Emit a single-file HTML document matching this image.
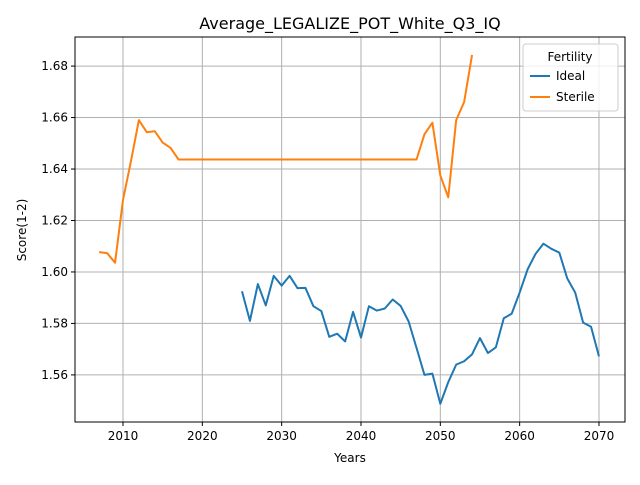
<!DOCTYPE html>
<html><head><meta charset="utf-8"><style>
body{margin:0;background:#fff;}
svg text{font-family:"DejaVu Sans","Liberation Sans",sans-serif;}
</style></head><body>
<svg id="chart" width="640" height="480">
<text x="350" y="29" font-size="16" text-anchor="middle">Average_LEGALIZE_POT_White_Q3_IQ</text>
<g id="grid"></g><g id="series"></g><g id="axes"></g>
<text x="350" y="462" font-size="12" text-anchor="middle">Years</text>
<text x="26" y="230" font-size="12" text-anchor="middle" transform="rotate(-90 26 230)">Score(1-2)</text>
<g>
<rect x="523" y="44" width="95" height="67" fill="#fff" fill-opacity="0.8" stroke="#ccc" rx="3"/>
<text x="570" y="61" font-size="12" text-anchor="middle">Fertility</text>
<line x1="530" y1="76" x2="550" y2="76" stroke="#1f77b4" stroke-width="2"/>
<text x="556" y="80" font-size="12">Ideal</text>
<line x1="530" y1="97" x2="550" y2="97" stroke="#ff7f0e" stroke-width="2"/>
<text x="556" y="101" font-size="12">Sterile</text>
</g>
</svg>
<script>
const sterileYears=[2007,2008,2009,2010,2011,2012,2013,2014,2015,2016,2017,2018,2019,2020,2021,2022,2023,2024,2025,2026,2027,2028,2029,2030,2031,2032,2033,2034,2035,2036,2037,2038,2039,2040,2041,2042,2043,2044,2045,2046,2047,2048,2049,2050,2051,2052,2053,2054];
const sterileValues=[1.6077,1.6073,1.6036,1.628,1.643,1.659,1.6543,1.6547,1.6503,1.6482,1.6437,1.6437,1.6437,1.6437,1.6437,1.6437,1.6437,1.6437,1.6437,1.6437,1.6437,1.6437,1.6437,1.6437,1.6437,1.6437,1.6437,1.6437,1.6437,1.6437,1.6437,1.6437,1.6437,1.6437,1.6437,1.6437,1.6437,1.6437,1.6437,1.6437,1.6437,1.6535,1.658,1.6375,1.629,1.659,1.666,1.6843];
const idealYears=[];for(let y=2025;y<=2070;y++)idealYears.push(y);
const idealValues=[1.5925,1.581,1.5953,1.587,1.5985,1.5947,1.5985,1.5937,1.5938,1.5867,1.5848,1.5748,1.576,1.573,1.5845,1.5745,1.5867,1.585,1.5858,1.5893,1.5868,1.5808,1.5705,1.56,1.5605,1.5488,1.5572,1.564,1.5653,1.568,1.5743,1.5685,1.5707,1.582,1.5838,1.592,1.601,1.607,1.611,1.609,1.6075,1.5975,1.592,1.5803,1.5787,1.5672];
const xTicks=[2010,2020,2030,2040,2050,2060,2070];
const yTicks=[1.56,1.58,1.60,1.62,1.64,1.66,1.68];
const L=75,R=625,T=37,B=422,x0=2003.95,x1=2073.28,y0=1.5417,y1=1.6913;
const X=v=>L+(v-x0)/(x1-x0)*(R-L);
const Y=v=>B-(v-y0)/(y1-y0)*(B-T);
const NS="http://www.w3.org/2000/svg";
function mk(tag,attrs,parent){const e=document.createElementNS(NS,tag);for(const k in attrs)e.setAttribute(k,attrs[k]);document.getElementById(parent).appendChild(e);return e;}
xTicks.forEach(t=>{
 const g=mk('line',{x1:X(t),x2:X(t),y1:T,y2:B,stroke:'#b0b0b0','stroke-width':1},'grid');
 
 
 mk('line',{x1:X(t),x2:X(t),y1:B,y2:B+4,stroke:'#000'},'axes');
 const tx=mk('text',{x:X(t),y:B+18,'font-size':12,'text-anchor':'middle'},'axes');tx.textContent=t;
 
 
});
yTicks.forEach(t=>{
 const g=mk('line',{x1:L,x2:R,y1:Y(t),y2:Y(t),stroke:'#b0b0b0','stroke-width':1},'grid');
 
 
 mk('line',{x1:L-4,x2:L,y1:Y(t),y2:Y(t),stroke:'#000'},'axes');
 const tx=mk('text',{x:L-7,y:Y(t)+4,'font-size':12,'text-anchor':'end'},'axes');tx.textContent=t.toFixed(2);
 
 
});
const frame=mk('rect',{x:L,y:T,width:R-L,height:B-T,fill:'none',stroke:'#000','stroke-width':1},'axes');


function line(xs,vs,c,name){const p=mk('polyline',{points:xs.map((x,i)=>X(x)+','+Y(vs[i])).join(' '),fill:'none',stroke:c,'stroke-width':2,'stroke-linejoin':'round'},'series');
 
 }
line(idealYears,idealValues,'#1f77b4','ideal-line');
line(sterileYears,sterileValues,'#ff7f0e','sterile-line');
</script>
</body></html>
